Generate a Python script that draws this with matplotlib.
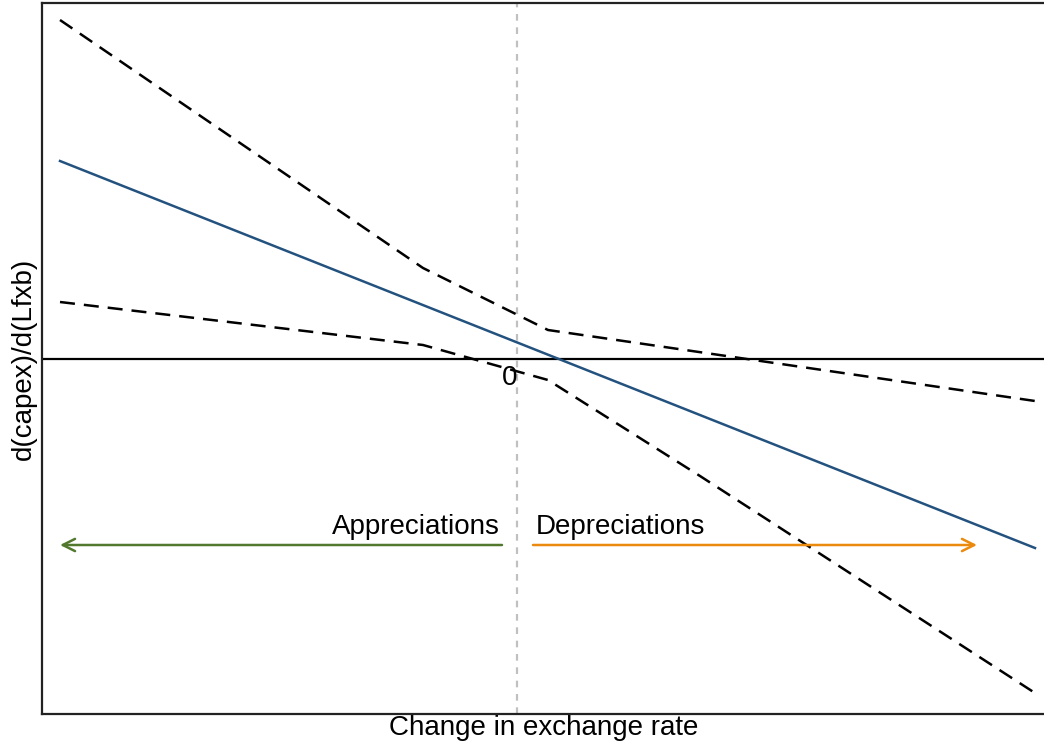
import matplotlib
matplotlib.use("Agg")
from matplotlib import pyplot as plt
import numpy as np

plt.rcParams['font.family'] = ['Liberation Sans', 'DejaVu Sans']

# change in exchange rate (0 = no change) and marginal effect
x_fit = [-0.914, 1.036]
y_fit = [1.98, -1.89]

x_upper = [-0.914, -0.188, 0.062, 1.036]
y_upper = [3.39, 0.91, 0.29, -0.42]

x_lower = [-0.914, -0.188, 0.062, 0.366, 1.036]
y_lower = [0.57, 0.14, -0.21, -1.17, -3.34]

arrow_y = -1.86
arrow_left = (-0.03, -0.914)
arrow_right = (0.032, 0.92)

fig = plt.figure(figsize=(10.44, 7.44), dpi=100)
ax = fig.add_axes([42/1044, 30/744, 1004/1044, 711/744])

ax.axhline(0, color="black", lw=1.6, zorder=2)
ax.axvline(0, color="#c0c0c0", lw=1.6, ls=(0, (3, 3)), zorder=1)

ax.plot(x_fit, y_fit, color="#24527f", lw=1.8, zorder=3)
ax.plot(x_upper, y_upper, color="black", lw=1.8, ls=(0, (6, 3.6)), zorder=3)
ax.plot(x_lower, y_lower, color="black", lw=1.8, ls=(0, (6, 3.6)), zorder=3)

ax.annotate("", xy=(arrow_left[1], arrow_y), xytext=(arrow_left[0], arrow_y),
            arrowprops=dict(arrowstyle="->", color="#52782e", lw=1.8,
                            mutation_scale=22, shrinkA=0, shrinkB=0))
ax.annotate("", xy=(arrow_right[1], arrow_y), xytext=(arrow_right[0], arrow_y),
            arrowprops=dict(arrowstyle="->", color="#ea8a0e", lw=1.8,
                            mutation_scale=22, shrinkA=0, shrinkB=0))
ax.text(-0.034, arrow_y + 0.05, "Appreciations", ha="right", va="bottom", fontsize=20)
ax.text(0.038, arrow_y + 0.05, "Depreciations", ha="left", va="bottom", fontsize=20)
ax.text(-0.014, -0.06, "0", ha="center", va="top", fontsize=20)

ax.set_xlim(-0.95, 1.058)
ax.set_ylim(-3.55, 3.56)
ax.set_xticks([])
ax.set_yticks([])
for s in ax.spines.values():
    s.set_linewidth(1.6)
    s.set_color("#222222")

ax.set_xlabel("Change in exchange rate", fontsize=20, labelpad=1)
ax.set_ylabel("d(capex)/d(Lfxb)", fontsize=20, labelpad=4)

fig.savefig("out.png", dpi=100)
